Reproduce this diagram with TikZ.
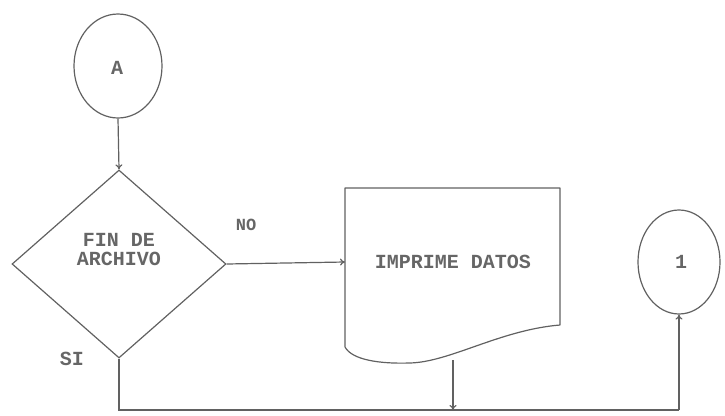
\documentclass[tikz,border=0pt]{standalone}
\usepackage{fontspec}
\setmonofont{Liberation Mono}
\usetikzlibrary{shapes.geometric,arrows.meta}
\begin{document}
\begin{tikzpicture}[x=1pt,y=-1pt,
  ln/.style={draw=black!62, line width=1.2pt},
  arr/.style={ln, -{To[length=5pt,width=7pt]}},
  txt/.style={text=black!60, font=\ttfamily\bfseries\fontsize{20}{19}\selectfont, inner sep=0pt}]
\useasboundingbox (0,0) rectangle (725,415);
% connector A
\node[ln, ellipse, minimum width=88pt, minimum height=104pt, inner sep=0pt] (ca) at (118,66) {};
\node[txt] (catext) at (117,68) {A};
% decision
\node[ln, diamond, minimum width=214pt, minimum height=188pt, inner sep=0pt] (dec) at (119,264) {};
\node[txt, align=center] (dectext) at (119,250) {FIN DE\\ARCHIVO};
% document
\coordinate (d1) at (345,188);
\coordinate (d2) at (560,188);
\coordinate (d3) at (560,325);
\coordinate (d4) at (345,347);
\draw[ln, line join=round] (d4) -- (d1) -- (d2) -- (d3)
  .. controls (500,330) and (450,362) .. (410,363)
  .. controls (380,364) and (352,360) .. (d4);
\node[txt] (doctext) at (453,262) {IMPRIME DATOS};
\coordinate (docin) at (345,262);
\coordinate (docout) at (453,360);
% connector 1
\node[ln, ellipse, minimum width=82pt, minimum height=104pt, inner sep=0pt] (c1) at (679,262) {};
\node[txt] (c1text) at (681,262) {1};
% labels
\node[txt, font=\ttfamily\bfseries\fontsize{17}{17}\selectfont] (no) at (246,225) {NO};
\node[txt] (si) at (72,359) {SI};
% connectors
\coordinate (j1) at (119,410);
\coordinate (j2) at (453,410);
\coordinate (j3) at (679,410);
\draw[arr] (ca.south) -- (dec.north);
\draw[arr] (dec.east) -- (docin);
\draw[ln] (dec.south) -- (j1) -- (j3);
\draw[arr] (j3) -- (c1.south);
\draw[arr] (docout) -- (j2);
\end{tikzpicture}
\end{document}
